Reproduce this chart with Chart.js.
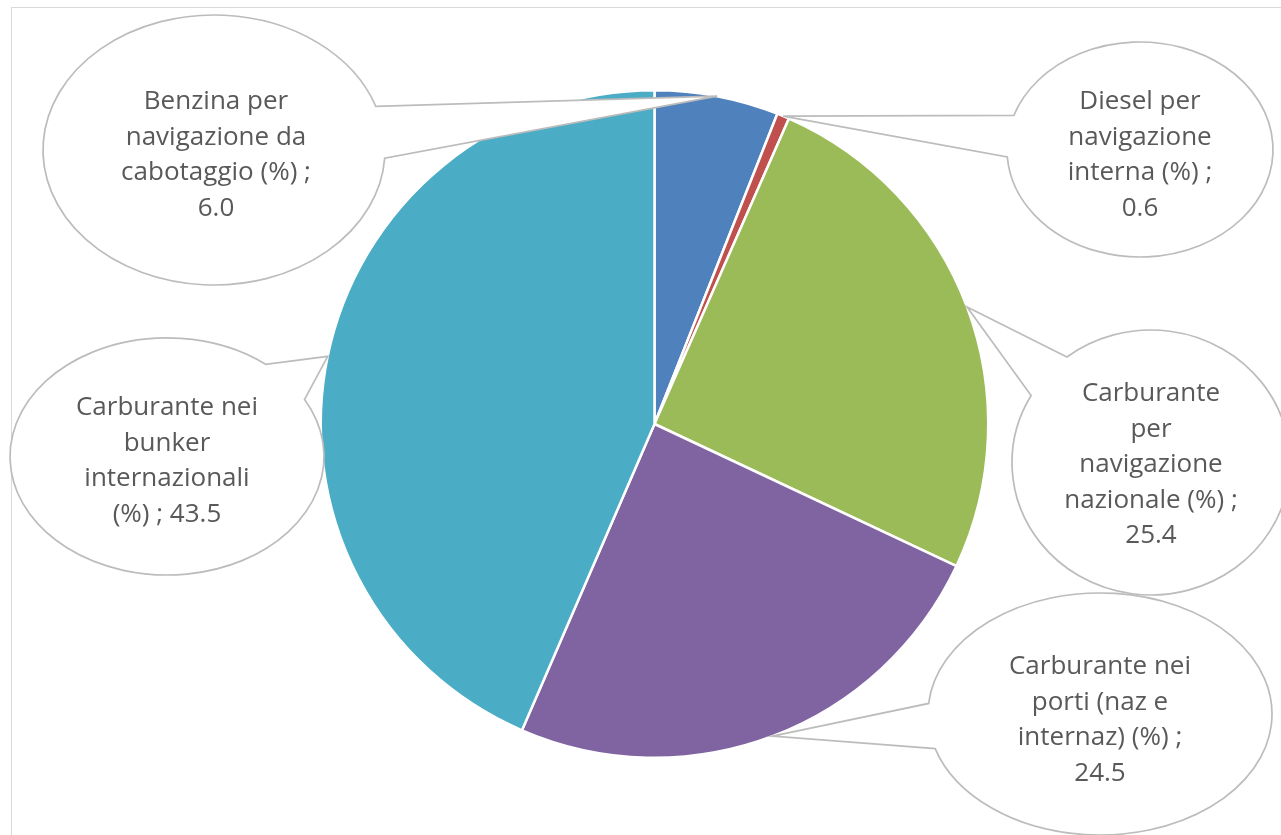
<!DOCTYPE html>
<html>
<head>
<meta charset="utf-8">
<script src="https://cdn.jsdelivr.net/npm/chart.js@4.4.1/dist/chart.umd.min.js"></script>
<style>
  html, body { margin: 0; padding: 0; background: #ffffff; overflow: hidden; }
  #frame { position: absolute; left: 11px; top: 7px; width: 1320px; height: 900px; border: 1px solid #d9d9d9; box-sizing: border-box; }
  #c { position: absolute; left: 0; top: 0; }
</style>
</head>
<body>
<div id="frame"></div>
<canvas id="c" width="1281" height="835"></canvas>
<script>
// ---- data ----
const categories = [
  ['Benzina per', 'navigazione da', 'cabotaggio (%)'],
  ['Diesel per', 'navigazione', 'interna (%)'],
  ['Carburante', 'per', 'navigazione', 'nazionale (%)'],
  ['Carburante nei', 'porti (naz e', 'internaz) (%)'],
  ['Carburante nei', 'bunker', 'internazionali', '(%)']
];
const values = [6.0, 0.6, 25.4, 24.5, 43.5];
const colors = ['#4F81BD', '#C0504D', '#9BBB59', '#8064A2', '#4BACC6'];

// ---- callout layout (ellipse geometry, wedge base angles in degrees, text centre) ----
const callouts = [
  { cx: 214,  cy: 150,   rx: 171, ry: 135,   a1: 3.5,   a2: 341.1, tx: 216,  ty: 155, inline: false },
  { cx: 1140, cy: 149.5, rx: 133, ry: 107.5, a1: 198.5, a2: 536,   tx: 1140, ty: 155, inline: false },
  { cx: 1151, cy: 462.5, rx: 139, ry: 132.5, a1: 232.8, a2: 570.4, tx: 1151, ty: 465, inline: false },
  { cx: 1100, cy: 714,   rx: 172, ry: 121,   a1: 185,   a2: 523.4, tx: 1100, ty: 720, inline: false },
  { cx: 167,  cy: 456.5, rx: 157, ry: 118.5, a1: 331.2, a2: 668.9, tx: 167,  ty: 461, inline: true }
];

const calloutPlugin = {
  id: 'callouts',
  afterDatasetsDraw(chart) {
    const ctx = chart.ctx;
    const meta = chart.getDatasetMeta(0);
    const ds = chart.data.datasets[0];
    meta.data.forEach((arc, i) => {
      const c = callouts[i];
      const p = arc.getProps(['x', 'y', 'startAngle', 'endAngle', 'outerRadius'], true);
      const mid = (p.startAngle + p.endAngle) / 2;
      const tipX = p.x + Math.cos(mid) * p.outerRadius;
      const tipY = p.y + Math.sin(mid) * p.outerRadius;
      const r1 = c.a1 * Math.PI / 180, r2 = c.a2 * Math.PI / 180;
      ctx.save();
      ctx.beginPath();
      ctx.moveTo(tipX, tipY);
      ctx.lineTo(c.cx + c.rx * Math.cos(r1), c.cy + c.ry * Math.sin(r1));
      ctx.ellipse(c.cx, c.cy, c.rx, c.ry, 0, r1, r2, false);
      ctx.lineTo(tipX, tipY);
      ctx.closePath();
      ctx.fillStyle = '#ffffff';
      ctx.fill();
      ctx.lineWidth = 1.7;
      ctx.strokeStyle = '#bcbcbc';
      ctx.lineJoin = 'miter';
      ctx.stroke();

      // text
      const label = chart.data.labels[i].slice();
      const v = ds.data[i].toFixed(1);
      if (c.inline) {
        label[label.length - 1] = label[label.length - 1] + ' ; ' + v;
      } else {
        label[label.length - 1] = label[label.length - 1] + ' ;';
        label.push(v);
      }
      ctx.fillStyle = '#595959';
      ctx.font = '26px "Open Sans"';
      ctx.textAlign = 'center';
      ctx.textBaseline = 'middle';
      const lh = 35.5;
      const y0 = c.ty - (label.length - 1) * lh / 2;
      label.forEach((t, k) => ctx.fillText(t, c.tx, y0 + k * lh));
      ctx.restore();
    });
  }
};

new Chart(document.getElementById('c'), {
  type: 'pie',
  data: {
    labels: categories,
    datasets: [{
      data: values,
      backgroundColor: colors,
      borderColor: '#ffffff',
      borderWidth: 2.5
    }]
  },
  options: {
    responsive: false,
    devicePixelRatio: 1,
    animation: false,
    layout: { padding: { left: 319, top: 89, right: 291, bottom: 76 } },
    plugins: {
      legend: { display: false },
      tooltip: { enabled: false },
      title: { display: false }
    }
  },
  plugins: [calloutPlugin]
});
</script>
</body>
</html>
